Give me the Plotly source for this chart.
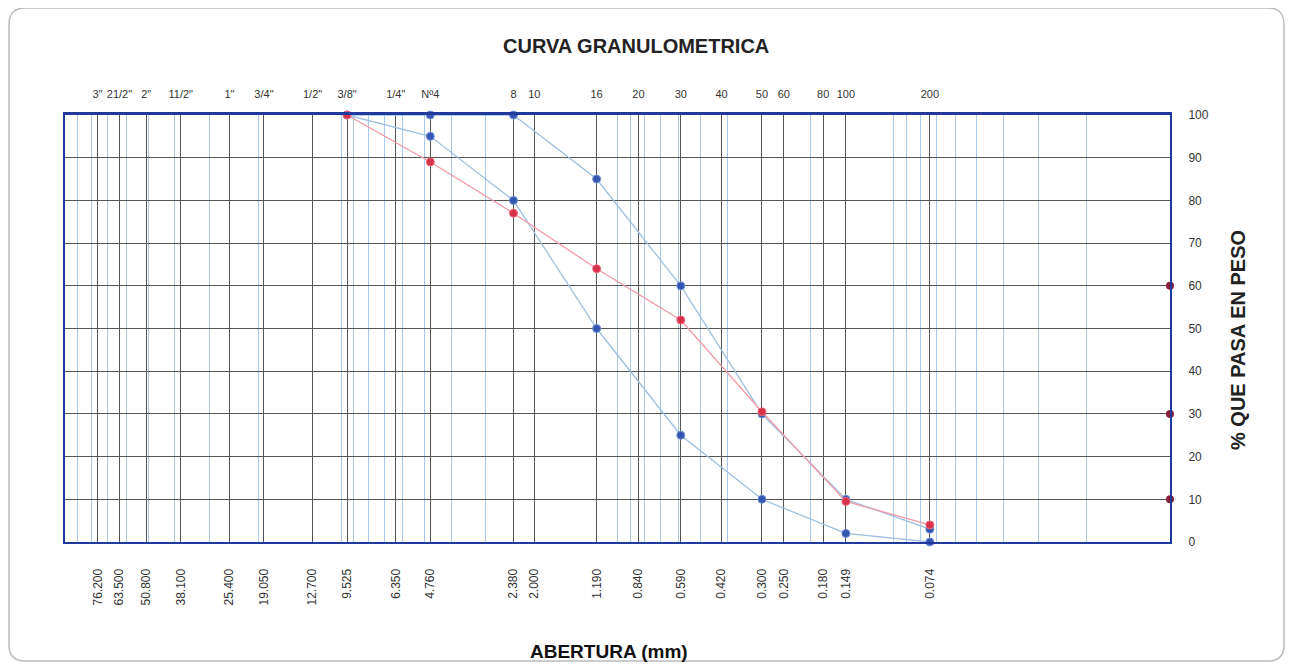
import numpy as np
import plotly.graph_objects as go

# ---- data ----
sieve_mm = [76.2, 63.5, 50.8, 38.1, 25.4, 19.05, 12.7, 9.525, 6.35, 4.76,
            2.38, 2.0, 1.19, 0.84, 0.59, 0.42, 0.30, 0.25, 0.18, 0.149, 0.074]
sieve_mm_text = ["76.200", "63.500", "50.800", "38.100", "25.400", "19.050", "12.700",
                 "9.525", "6.350", "4.760", "2.380", "2.000", "1.190", "0.840", "0.590",
                 "0.420", "0.300", "0.250", "0.180", "0.149", "0.074"]
sieve_names = ['3"', '21/2"', '2"', '11/2"', '1"', '3/4"', '1/2"', '3/8"', '1/4"', 'Nº4',
               '8', '10', '16', '20', '30', '40', '50', '60', '80', '100', '200']

curve_mm = [9.525, 4.76, 2.38, 1.19, 0.59, 0.30, 0.149, 0.074]
muestra = [100, 89, 77, 64, 52, 30.5, 9.5, 4]
lim_sup = [100, 100, 100, 85, 60, 30, 10, 3]
lim_inf = [100, 95, 80, 50, 25, 10, 2, 0]

d_edge_x = [0.01, 0.01, 0.01]
d_edge_y = [60, 30, 10]

y_ticks = list(range(0, 101, 10))

# minor log grid (1..9 per decade)
minor_vals = [m * 10.0 ** e for e in range(-2, 2) for m in range(1, 10)] + [100]

BLUE_LINE = "#9dbfe0"
BLUE_MK = "#3556b0"
RED_LINE = "#f29aa6"
RED_MK = "#d8324a"
GRID = "#555555"
AXIS = "#1f3a9a"

# page geometry (page has 8px body offset)
OFF = 8
PL, PR, PT, PB = 65, 1170, 115, 542   # plot area in page pixels
W, H = 1278, 655
PW, PH = PR - PL, PB - PT


def px(x):
    return (x - PL) / PW


def py(y):
    return (PB - y) / PH


def rounded_rect(x0, y0, x1, y1, r):
    # page pixel coords -> paper path with rounded corners
    pts = []
    pts.append(f"M {px(x0 + r)},{py(y0)}")
    pts.append(f"L {px(x1 - r)},{py(y0)}")
    pts.append(f"Q {px(x1)},{py(y0)} {px(x1)},{py(y0 + r)}")
    pts.append(f"L {px(x1)},{py(y1 - r)}")
    pts.append(f"Q {px(x1)},{py(y1)} {px(x1 - r)},{py(y1)}")
    pts.append(f"L {px(x0 + r)},{py(y1)}")
    pts.append(f"Q {px(x0)},{py(y1)} {px(x0)},{py(y1 - r)}")
    pts.append(f"L {px(x0)},{py(y0 + r)}")
    pts.append(f"Q {px(x0)},{py(y0)} {px(x0 + r)},{py(y0)} Z")
    return " ".join(pts)


fig = go.Figure()

mk_b = dict(color=BLUE_MK, size=8, line=dict(color="#6f92d8", width=1))
fig.add_trace(go.Scatter(x=curve_mm, y=lim_inf, mode="lines+markers",
                         line=dict(color=BLUE_LINE, width=1.3), marker=mk_b,
                         cliponaxis=False, showlegend=False))
fig.add_trace(go.Scatter(x=curve_mm, y=lim_sup, mode="lines+markers",
                         line=dict(color=BLUE_LINE, width=1.3), marker=mk_b,
                         cliponaxis=False, showlegend=False))
fig.add_trace(go.Scatter(x=curve_mm, y=muestra, mode="lines+markers",
                         line=dict(color=RED_LINE, width=1.3),
                         marker=dict(color=RED_MK, size=8, line=dict(color="#f06a7a", width=1)),
                         cliponaxis=False, showlegend=False))
fig.add_trace(go.Scatter(x=d_edge_x, y=d_edge_y, mode="markers",
                         marker=dict(color="#8a1f3a", size=8),
                         cliponaxis=False, showlegend=False))
# helper trace for top axis
fig.add_trace(go.Scatter(x=sieve_mm, y=[None] * len(sieve_mm), xaxis="x2",
                         mode="markers", showlegend=False, hoverinfo="skip"))

font = "Liberation Sans, Arial, sans-serif"

fig.update_layout(
    width=W, height=H,
    margin=dict(l=PL - OFF, r=OFF + W - PR, t=PT - OFF, b=OFF + H - PB),
    paper_bgcolor="white", plot_bgcolor="white",
    font=dict(family=font, color="#222222", size=11),
    xaxis=dict(type="log", range=[2, -2], tickvals=sieve_mm, ticktext=sieve_mm_text,
               tickangle=-90, tickfont=dict(size=12, color="#333333"),
               ticklabelstandoff=20,
               showgrid=True, gridcolor=GRID, gridwidth=1,
               minor=dict(tickvals=minor_vals, showgrid=True, gridcolor="#a9c8ec", gridwidth=1),
               showline=True, linecolor=AXIS, linewidth=2, mirror=False,
               ticks="", zeroline=False),
    xaxis2=dict(type="log", range=[2, -2], overlaying="x", side="top",
                tickvals=sieve_mm, ticktext=sieve_names,
                tickfont=dict(size=11, color="#333333"), ticklabelstandoff=10,
                showgrid=False, showline=True, linecolor=AXIS, linewidth=3, ticks=""),
    yaxis=dict(range=[0, 100], tickvals=y_ticks, side="right",
               tickfont=dict(size=12, color="#333333"), ticklabelstandoff=14,
               showgrid=True, gridcolor=GRID, gridwidth=1,
               showline=True, linecolor=AXIS, linewidth=2, mirror=True,
               ticks="", zeroline=False),
    annotations=[
        dict(text="<b>CURVA GRANULOMETRICA</b>", xref="paper", yref="paper",
             x=px(636), y=py(46), xanchor="center", yanchor="middle",
             showarrow=False, font=dict(size=20, color="#222222")),
        dict(text="<b>ABERTURA (mm)</b>", xref="paper", yref="paper",
             x=px(609), y=py(651), xanchor="center", yanchor="middle",
             showarrow=False, font=dict(size=19, color="#111111")),
        dict(text="<b>% QUE PASA EN PESO</b>", xref="paper", yref="paper",
             x=px(1238), y=py(340), xanchor="center", yanchor="middle", textangle=-90,
             showarrow=False, font=dict(size=20, color="#222222")),
    ],
    shapes=[
        dict(type="path", xref="paper", yref="paper",
             path=rounded_rect(9, 8, 1284, 661, 16),
             line=dict(color="#bbbbbb", width=1.5), layer="below"),
    ],
)

fig.write_html("out.html")
